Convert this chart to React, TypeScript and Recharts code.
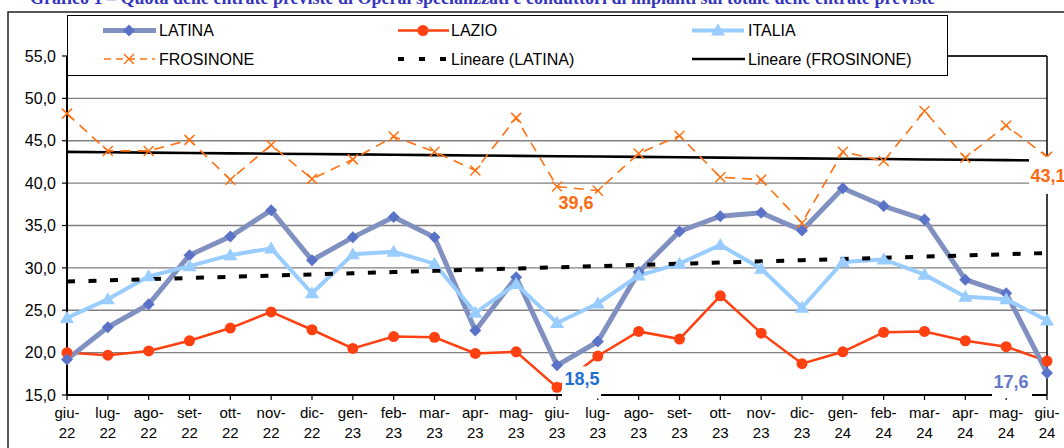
import React from "react";
import {
    LineChart,
    Line,
    XAxis,
    YAxis,
    CartesianGrid,
    ReferenceLine,
    LabelList,
} from "recharts";

// mesi giu-22 .. giu-24
const months = [
    "giu-22", "lug-22", "ago-22", "set-22", "ott-22", "nov-22", "dic-22",
    "gen-23", "feb-23", "mar-23", "apr-23", "mag-23", "giu-23", "lug-23",
    "ago-23", "set-23", "ott-23", "nov-23", "dic-23", "gen-24", "feb-24",
    "mar-24", "apr-24", "mag-24", "giu-24",
];

const latina = [
    19.2, 23.0, 25.7, 31.5, 33.7, 36.8, 30.9, 33.6, 36.0, 33.6, 22.6, 28.9, 18.5,
    21.3, 29.5, 34.3, 36.1, 36.5, 34.4, 39.4, 37.3, 35.7, 28.6, 27.0, 17.6,
];
const lazio = [
    20.0, 19.7, 20.2, 21.4, 22.9, 24.8, 22.7, 20.5, 21.9, 21.8, 19.9, 20.1, 15.9,
    19.6, 22.5, 21.6, 26.7, 22.3, 18.7, 20.1, 22.4, 22.5, 21.4, 20.7, 19.0,
];
const italia = [
    24.1, 26.3, 29.0, 30.2, 31.5, 32.3, 27.0, 31.6, 31.9, 30.5, 24.7, 28.1, 23.5,
    25.8, 29.1, 30.5, 32.7, 29.9, 25.3, 30.7, 31.0, 29.2, 26.6, 26.3, 23.8,
];
const frosinone = [
    48.2, 43.8, 43.8, 45.1, 40.4, 44.5, 40.5, 42.8, 45.5, 43.7, 41.5, 47.7, 39.6,
    39.1, 43.5, 45.6, 40.7, 40.4, 35.3, 43.7, 42.6, 48.5, 43.0, 46.8, 43.1,
];
const yTicks = [15, 20, 25, 30, 35, 40, 45, 50, 55];

const FONT = "'Liberation Sans', Arial, sans-serif";
const fmt = (v: number) => Number(v).toFixed(1).replace(".", ",");

// retta dei minimi quadrati (come la "Lineare" di Excel)
function linearFit(vals: number[]) {
    const n = vals.length;
    const mx = (n - 1) / 2;
    const my = vals.reduce((a, b) => a + b, 0) / n;
    let num = 0;
    let den = 0;
    vals.forEach((v, i) => {
        num += (i - mx) * (v - my);
        den += (i - mx) * (i - mx);
    });
    const slope = num / den;
    return vals.map((_, i) => my + slope * (i - mx));
}

const trendLatina = linearFit(latina);
const trendFrosinone = linearFit(frosinone);

const data = months.map((m, i) => ({
    month: m,
    latina: latina[i],
    lazio: lazio[i],
    italia: italia[i],
    frosinone: frosinone[i],
    trendLatina: trendLatina[i],
    trendFrosinone: trendFrosinone[i],
}));

const C_LATINA = "#8090C0";
const C_LATINA_DOT = "#5A73C8";
const C_LAZIO = "#FF4010";
const C_ITALIA = "#99CCFF";
const C_FROS = "#FF7010";

function MonthTick(props: any) {
    const { x, y, payload } = props;
    const [m, yr] = String(payload.value).split("-");
    return (
        <g>
            <text x={x} y={y + 16} textAnchor="middle" fontSize={15} fontFamily={FONT} fill="#000">
                {m}-
            </text>
            <text x={x} y={y + 36} textAnchor="middle" fontSize={15} fontFamily={FONT} fill="#000">
                {yr}
            </text>
        </g>
    );
}

const diamondDot = (p: any) => {
    const { cx, cy, index } = p;
    if (cx == null || cy == null) return <g key={`ld${index}`} />;
    const s = 6;
    return (
        <polygon
            key={`ld${index}`}
            points={`${cx},${cy - s} ${cx + s},${cy} ${cx},${cy + s} ${cx - s},${cy}`}
            fill={C_LATINA_DOT}
        />
    );
};

const circleDot = (p: any) => {
    const { cx, cy, index } = p;
    if (cx == null || cy == null) return <g key={`lz${index}`} />;
    return <circle key={`lz${index}`} cx={cx} cy={cy} r={5.5} fill={C_LAZIO} />;
};

const triangleDot = (p: any) => {
    const { cx, cy, index } = p;
    if (cx == null || cy == null) return <g key={`it${index}`} />;
    return (
        <polygon
            key={`it${index}`}
            points={`${cx},${cy - 7} ${cx + 7},${cy + 5} ${cx - 7},${cy + 5}`}
            fill={C_ITALIA}
        />
    );
};

const crossDot = (p: any) => {
    const { cx, cy, index } = p;
    if (cx == null || cy == null) return <g key={`fr${index}`} />;
    const s = 5;
    return (
        <g key={`fr${index}`} stroke={C_FROS} strokeWidth={1.5}>
            <line x1={cx - s} y1={cy - s} x2={cx + s} y2={cy + s} />
            <line x1={cx - s} y1={cy + s} x2={cx + s} y2={cy - s} />
        </g>
    );
};

type LabelSpec = { dx: number; dy: number; box: [number, number, number, number]; color: string };

const latinaLabels: Record<number, LabelSpec> = {
    12: { dx: 25, dy: 13, box: [-20, -12, 39, 32], color: "#1F6FD1" },
    24: { dx: -36, dy: 9, box: [-19, -12, 40, 28], color: "#6478C8" },
};
const frosLabels: Record<number, LabelSpec> = {
    12: { dx: 19, dy: 16, box: [-19, -11, 38, 23], color: "#FF6A10" },
    24: { dx: 1, dy: 19, box: [-19, -19, 50, 37], color: "#FF6A10" },
};

const makeLabel = (specs: Record<number, LabelSpec>) => (props: any) => {
    const { x, y, value, index } = props;
    const spec = specs[index];
    if (!spec || x == null || y == null) return null;
    const cx = x + spec.dx;
    const cy = y + spec.dy;
    return (
        <g key={`lbl${index}`}>
            <rect x={cx + spec.box[0]} y={cy + spec.box[1]} width={spec.box[2]} height={spec.box[3]} fill="#fff" />
            <text
                x={cx}
                y={cy + 6.5}
                textAnchor="middle"
                fontSize={18}
                fontWeight="bold"
                fontFamily={FONT}
                fill={spec.color}
            >
                {fmt(value)}
            </text>
        </g>
    );
};

function LegendOverlay() {
    const txt = { fontSize: 16, fontFamily: FONT, fill: "#000" } as const;
    const r1 = 30.5;
    const r2 = 59;
    return (
        <svg
            width={1064}
            height={448}
            style={{ position: "absolute", left: 0, top: 0, pointerEvents: "none" }}
        >
            <text x={30} y={4} fontSize={18} fontWeight="bold" fontFamily="'Liberation Serif', 'Times New Roman', serif" fill="#3535C0">
                Grafico 1 – Quota delle entrate previste di Operai specializzati e conduttori di impianti sul totale delle entrate previste
            </text>
            <rect x={8} y={12} width={1100} height={500} fill="none" stroke="#222" strokeWidth={1.5} />
            <rect x={67.5} y={15.5} width={880} height={60} fill="#fff" stroke="#000" strokeWidth={1} />

            {/* LATINA */}
            <line x1={103} y1={r1} x2={156} y2={r1} stroke={C_LATINA} strokeWidth={5} />
            <polygon points={`129,${r1 - 6} 135,${r1} 129,${r1 + 6} 123,${r1}`} fill={C_LATINA_DOT} />
            <text x={159} y={r1 + 5.8} {...txt}>LATINA</text>

            {/* LAZIO */}
            <line x1={398} y1={r1} x2={449} y2={r1} stroke={C_LAZIO} strokeWidth={2.5} />
            <circle cx={423} cy={r1} r={5.5} fill={C_LAZIO} />
            <text x={451} y={r1 + 5.8} {...txt}>LAZIO</text>

            {/* ITALIA */}
            <line x1={692} y1={r1} x2={744} y2={r1} stroke={C_ITALIA} strokeWidth={4} />
            <polygon points={`718,${r1 - 7} 725,${r1 + 5} 711,${r1 + 5}`} fill={C_ITALIA} />
            <text x={748} y={r1 + 5.8} {...txt}>ITALIA</text>

            {/* FROSINONE */}
            <line x1={104} y1={r2} x2={155} y2={r2} stroke={C_FROS} strokeWidth={1.5} strokeDasharray="7 5" />
            <g stroke={C_FROS} strokeWidth={1.5}>
                <line x1={124} y1={r2 - 5} x2={134} y2={r2 + 5} />
                <line x1={124} y1={r2 + 5} x2={134} y2={r2 - 5} />
            </g>
            <text x={159} y={r2 + 5.8} {...txt}>FROSINONE</text>

            {/* Lineare (LATINA) */}
            <line x1={398} y1={r2} x2={450} y2={r2} stroke="#000" strokeWidth={4} strokeDasharray="6 15" />
            <text x={451} y={r2 + 5.8} {...txt}>Lineare (LATINA)</text>

            {/* Lineare (FROSINONE) */}
            <line x1={692} y1={r2} x2={745} y2={r2} stroke="#000" strokeWidth={2.5} />
            <text x={748} y={r2 + 5.8} {...txt}>Lineare (FROSINONE)</text>
        </svg>
    );
}

export default function App() {
    return (
        <div
            style={{
                position: "absolute",
                left: 0,
                top: 0,
                width: 1064,
                height: 448,
                overflow: "hidden",
                background: "#fff",
            }}
        >
            <LineChart
                width={1064}
                height={448}
                data={data}
                margin={{ top: 56, right: 17, bottom: 0, left: 0 }}
            >
                <CartesianGrid vertical={false} stroke="#808080" strokeWidth={1.4} />
                <XAxis
                    dataKey="month"
                    interval={0}
                    height={53}
                    tickSize={5}
                    tickMargin={2}
                    tick={<MonthTick />}
                    tickLine={{ stroke: "#000", strokeWidth: 1.2 }}
                    axisLine={{ stroke: "#000", strokeWidth: 2 }}
                />
                <YAxis
                    domain={[15, 55]}
                    ticks={yTicks}
                    allowDataOverflow
                    width={67}
                    tickSize={5}
                    tickMargin={6}
                    tickFormatter={fmt}
                    tick={{ fill: "#000", fontSize: 16, fontFamily: FONT }}
                    tickLine={{ stroke: "#000", strokeWidth: 1.2 }}
                    axisLine={{ stroke: "#000", strokeWidth: 2 }}
                />
                <ReferenceLine y={55} stroke="#000" strokeWidth={1.5} />
                <ReferenceLine x="giu-24" stroke="#000" strokeWidth={1.5} />

                <Line
                    dataKey="lazio"
                    stroke={C_LAZIO}
                    strokeWidth={2.5}
                    dot={circleDot}
                    activeDot={false}
                    isAnimationActive={false}
                />
                <Line
                    dataKey="latina"
                    stroke={C_LATINA}
                    strokeWidth={5}
                    dot={diamondDot}
                    activeDot={false}
                    isAnimationActive={false}
                >
                    <LabelList dataKey="latina" content={makeLabel(latinaLabels)} />
                </Line>
                <Line
                    dataKey="italia"
                    stroke={C_ITALIA}
                    strokeWidth={4}
                    dot={triangleDot}
                    activeDot={false}
                    isAnimationActive={false}
                />
                <Line
                    dataKey="trendLatina"
                    stroke="#000"
                    strokeWidth={4}
                    strokeDasharray="8 13.5"
                    dot={false}
                    activeDot={false}
                    isAnimationActive={false}
                />
                <Line
                    dataKey="trendFrosinone"
                    stroke="#000"
                    strokeWidth={2.6}
                    dot={false}
                    activeDot={false}
                    isAnimationActive={false}
                />
                <Line
                    dataKey="frosinone"
                    stroke={C_FROS}
                    strokeWidth={1.6}
                    strokeDasharray="10 7"
                    dot={crossDot}
                    activeDot={false}
                    isAnimationActive={false}
                >
                    <LabelList dataKey="frosinone" content={makeLabel(frosLabels)} />
                </Line>
            </LineChart>
            <LegendOverlay />
        </div>
    );
}
